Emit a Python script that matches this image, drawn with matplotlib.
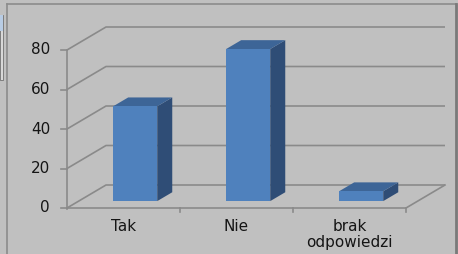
import matplotlib
matplotlib.use("Agg")
import matplotlib.pyplot as plt
from matplotlib.patches import Polygon, Rectangle
from matplotlib.lines import Line2D

# dane wykresu
categories = ["Tak", "Nie", "brak\nodpowiedzi"]
values = [48, 77, 5]
y_ticks = [0, 20, 40, 60, 80]

# kolory (styl Excela 3D)
bg = "#c0c0c0"
grid_c = "#8a8a8a"
front_c = "#4f81bd"
top_c = "#3d6597"
side_c = "#2f4d76"
text_c = "#151515"

W, H = 458, 254
fig = plt.figure(figsize=(W / 100, H / 100), dpi=100, facecolor=bg)
ax = fig.add_axes([0, 0, 1, 1])
ax.set_facecolor(bg)
ax.axis("off")

# skala: 1 kategoria = 113 px, 1 jednostka = 158/80 px
px_x = 113.0
px_y = 158.0 / 80
x0_px, y0_px = 67, H - 208
ax.set_xlim(-x0_px / px_x, (W - x0_px) / px_x)
ax.set_ylim(-y0_px / px_y, (H - y0_px) / px_y)

# glebokosc 3D
dx = 39 / px_x
dy = 23 / px_y
n = len(categories)
ymax = y_ticks[-1]

# siatka: sciana tylna i lewa
for v in y_ticks:
    ax.plot([0, dx, n + dx], [v, v + dy, v + dy], color=grid_c, lw=1.2,
            solid_capstyle="butt", zorder=1)
    ax.plot([-6 / px_x, 0], [v, v], color=grid_c, lw=1.2, zorder=1)
# os y i podloga
ax.plot([0, 0], [-0.5, ymax], color=grid_c, lw=1.2, zorder=1)
ax.plot([0, n, n + dx], [0, 0, dy], color=grid_c, lw=1.2, zorder=1)
for i in range(1, n + 1):
    ax.plot([i, i], [0, -4 / px_y], color=grid_c, lw=1.2, zorder=1)

# slupki 3D
f1, f2 = 0.3, 0.685
bw = 0.39
for i, v in enumerate(values):
    xl = i + 0.5 - bw / 2 + f1 * dx
    xr = xl + bw
    yb = f1 * dy
    yt = v + f1 * dy
    ox = (f2 - f1) * dx
    oy = (f2 - f1) * dy
    ax.add_patch(Polygon([(xr, yb), (xr + ox, yb + oy), (xr + ox, yt + oy), (xr, yt)],
                         closed=True, facecolor=side_c, edgecolor="none", zorder=3))
    ax.add_patch(Polygon([(xl, yt), (xr, yt), (xr + ox, yt + oy), (xl + ox, yt + oy)],
                         closed=True, facecolor=top_c, edgecolor="none", zorder=3))
    ax.add_patch(Rectangle((xl, yb), bw, v, facecolor=front_c,
                           edgecolor="none", zorder=4))

# etykiety osi y
for v in y_ticks:
    ax.text(-17 / px_x, v, str(v), ha="right", va="center", fontsize=11,
            color=text_c, family="DejaVu Sans")

# etykiety kategorii
for i, c in enumerate(categories):
    ax.text(i + 0.5, -11 / px_y, c, ha="center", va="top", fontsize=11,
            color=text_c, family="DejaVu Sans", linespacing=1.1)

# ramka obszaru wykresu
tf = fig.transFigure
fig.lines.append(Line2D([7 / W, 7 / W], [0, 1 - 4 / H], color="#8c8c8c", lw=1.2, transform=tf))
fig.lines.append(Line2D([7 / W, 456 / W], [1 - 4 / H, 1 - 4 / H], color="#8c8c8c", lw=1.2, transform=tf))
fig.lines.append(Line2D([456 / W, 456 / W], [0, 1 - 4 / H], color="#7a7a7a", lw=2, transform=tf))
# fragment obok (lewy gorny rog)
fig.patches.append(Rectangle((0, 1 - 80 / H), 3 / W, 65 / H, transform=tf,
                             facecolor="#d8d8d8", edgecolor="#707070", lw=0.6))
fig.patches.append(Rectangle((0, 1 - 31 / H), 3 / W, 16 / H, transform=tf,
                             facecolor="#b8cce4", edgecolor="none"))

fig.savefig("out.png", dpi=100, facecolor=bg)
